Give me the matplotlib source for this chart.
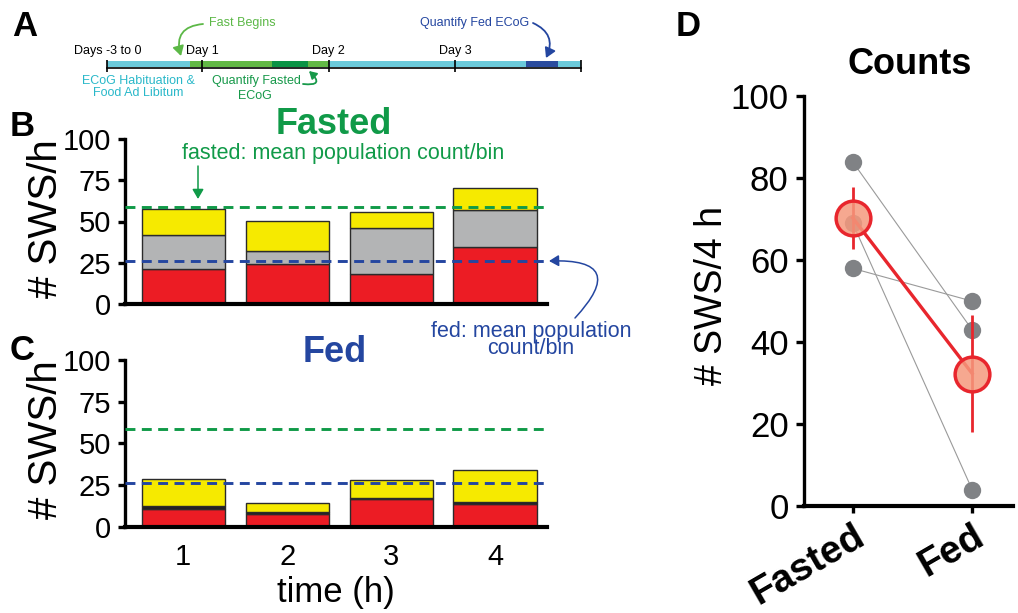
import numpy as np
import matplotlib.pyplot as plt
from matplotlib.patches import FancyArrowPatch

plt.rcParams['font.family'] = ['Liberation Sans', 'DejaVu Sans']

# ---- data ----
# timeline schedule (days)
timeline_edges = [0.25, 0.903, 1.552, 1.838, 2.0, 3.564, 3.818, 4.0]
timeline_colors = ['#6bcadb', '#62b946', '#0b9346', '#62b946', '#6bcadb', '#2b4c9e', '#6bcadb']
day_ticks = [0.25, 1, 2, 3, 4]
day_label_pos = [0.25, 1, 2, 3]
day_labels = ['Days -3 to 0', 'Day 1', 'Day 2', 'Day 3']

# SWS counts per hour bin
hours = [1, 2, 3, 4]
fasted_red = [21.1, 24.1, 18.0, 34.4]
fasted_gray = [20.8, 7.9, 28.0, 22.7]
fasted_yellow = [15.6, 18.4, 10.0, 13.1]
fed_red = [10.6, 7.4, 16.6, 13.6]
fed_black = [1.6, 1.4, 0.8, 1.4]
fed_yellow = [16.4, 5.2, 10.4, 18.8]

# SWS per 4 h, paired animals
groups = ['Fasted', 'Fed']
fasted_counts = [84, 69, 58]
fed_counts = [43, 4, 50]

RED = '#ec1c24'
GRAY = '#b3b4b5'
YELLOW = '#f6ea00'
BLACK = '#231f20'
GREEN = '#109a48'
BLUE = '#2446a0'

fig = plt.figure(figsize=(10.18, 6.13), dpi=100)


def style_axes(ax, lw=2.4):
    for s in ['top', 'right']:
        ax.spines[s].set_visible(False)
    ax.spines['left'].set_linewidth(lw)
    ax.spines['bottom'].set_linewidth(lw + 0.6)
    ax.tick_params(axis='y', width=lw, length=5, labelsize=21, pad=5)


def stacked(ax, layers):
    bottom = np.zeros(len(hours))
    for vals, col in layers:
        ax.bar(hours, vals, 0.8, bottom=bottom, color=col,
               edgecolor='#2b2b2b', linewidth=1, zorder=2)
        bottom += np.array(vals)
    return bottom


# ---- A: timeline ----
axT = fig.add_axes([106 / 1018, 1 - 73 / 613, 476.7 / 1018, 14 / 613])
axT.barh(0.645, np.diff(timeline_edges), left=timeline_edges[:-1], height=0.43,
         color=timeline_colors, linewidth=0)
axT.plot([timeline_edges[0], timeline_edges[-1]], [0.36, 0.36], color='black', lw=1.2)
axT.vlines(day_ticks, 0.07, 0.93, color='black', lw=1.2)
for x, lab in zip(day_label_pos, day_labels):
    axT.text(x, 1.57, lab, ha='center', va='center', fontsize=9)
axT.set_xlim(timeline_edges[0] - 0.01, timeline_edges[-1] + 0.01)
axT.set_ylim(0, 1)
axT.axis('off')

# ---- B: fasted ----
axB = fig.add_axes([125 / 1018, 1 - 304 / 613, 422 / 1018, 165 / 613])
fasted_tot = stacked(axB, [(fasted_red, RED), (fasted_gray, GRAY), (fasted_yellow, YELLOW)])
fed_tot = np.array(fed_red) + np.array(fed_black) + np.array(fed_yellow)
fasted_mean = np.mean(fasted_tot)
fed_mean = np.mean(fed_tot)

# ---- C: fed ----
axC = fig.add_axes([125 / 1018, 1 - 526.7 / 613, 422 / 1018, 166.7 / 613])
stacked(axC, [(fed_red, RED), (fed_black, BLACK), (fed_yellow, YELLOW)])

for ax in (axB, axC):
    ax.axhline(fasted_mean, color=GREEN, lw=2.1, dashes=(3.4, 2.2), zorder=3)
    ax.axhline(fed_mean, color=BLUE, lw=2.1, dashes=(3.4, 2.2), zorder=3)
    ax.set_xlim(0.44, 4.5)
    ax.set_ylim(0, 100)
    ax.set_yticks([0, 25, 50, 75, 100])
    style_axes(ax)
    ax.set_ylabel('# SWS/h', fontsize=29)
    ax.yaxis.set_label_coords(-0.142, 0.52)

axB.set_xticks([])
axC.set_xticks(hours)
axC.tick_params(axis='x', length=0, labelsize=21, pad=12)
axC.set_xlabel('time (h)', fontsize=25, labelpad=3)

# ---- D: paired counts ----
axD = fig.add_axes([804 / 1018, 1 - 506 / 613, 209 / 1018, 409.7 / 613])
xs = [0, 1]
for a, b in zip(fasted_counts, fed_counts):
    axD.plot(xs, [a, b], color='#9a9a9a', lw=0.8, zorder=1)
    axD.plot(xs, [a, b], 'o', color='#808285', ms=12.5, mec='none', zorder=2)
means = [np.mean(fasted_counts), np.mean(fed_counts)]
sems = [np.std(fasted_counts, ddof=1) / np.sqrt(len(fasted_counts)),
        np.std(fed_counts, ddof=1) / np.sqrt(len(fed_counts))]
axD.errorbar(xs, means, yerr=sems, color='#e8262d', lw=2.4, elinewidth=2,
             capsize=0, zorder=3)
axD.plot(xs, means, 'o', ms=25, mfc=(0.96, 0.60, 0.49, 0.85), mec='#e8262d',
         mew=2.5, zorder=4)
axD.set_xlim(-0.408, 1.342)
axD.set_ylim(0, 100)
axD.set_yticks([0, 20, 40, 60, 80, 100])
style_axes(axD)
axD.tick_params(axis='y', labelsize=25, length=6)
axD.set_xticks(xs)
axD.set_xticklabels(groups, rotation=30, ha='right', va='top',
                    rotation_mode='anchor', fontsize=28, fontweight='bold')
axD.tick_params(axis='x', width=2.4, length=5, pad=4)
axD.set_ylabel('# SWS/4 h', fontsize=27)
axD.yaxis.set_label_coords(-0.354, 0.515)

# ---- overlay: letters, titles, notes, arrows ----
axO = fig.add_axes([0, 0, 1, 1])
axO.set_xlim(0, 1018)
axO.set_ylim(613, 0)
axO.axis('off')

for lab, x, y in [('A', 25, 26), ('B', 22, 127), ('C', 22, 350), ('D', 688, 27)]:
    axO.text(x, y, lab, fontsize=25, fontweight='bold', ha='center', va='center')

axO.text(334, 124, 'Fasted', color=GREEN, fontsize=26, fontweight='bold', ha='center', va='center')
axO.text(335, 352, 'Fed', color=BLUE, fontsize=26, fontweight='bold', ha='center', va='center')
axO.text(910, 64, 'Counts', fontsize=26, fontweight='bold', ha='center', va='center')

axO.text(343, 153, 'fasted: mean population count/bin', color=GREEN, fontsize=15.5,
         ha='center', va='center')
axO.text(531, 340, 'fed: mean population\ncount/bin', color=BLUE, fontsize=15.5,
         ha='center', va='center', multialignment='center', linespacing=0.8)

LGREEN = '#5cb847'
CYAN = '#29b8c9'
axO.text(242.5, 22.7, 'Fast Begins', color=LGREEN, fontsize=9, ha='center', va='center')
axO.text(474.5, 22.7, 'Quantify Fed ECoG', color=BLUE, fontsize=9, ha='center', va='center')
axO.text(138, 81, 'ECoG Habituation &', color=CYAN, fontsize=9, ha='center', va='center')
axO.text(138, 93.3, 'Food Ad Libitum', color=CYAN, fontsize=9, ha='center', va='center')
axO.text(256, 81, 'Quantify Fasted', color='#17994a', fontsize=9, ha='center', va='center')
axO.text(255, 96, 'ECoG', color='#17994a', fontsize=9, ha='center', va='center')


def arrow(p0, p1, rad, color, lw=1.3, head=8):
    axO.add_patch(FancyArrowPatch(p0, p1, connectionstyle=f'arc3,rad={rad}',
                                  arrowstyle=f'-|>,head_length={head * 0.06},head_width={head * 0.035}',
                                  color=color, lw=lw, mutation_scale=12,
                                  shrinkA=0, shrinkB=0))


arrow((203, 24), (181, 56), 0.6, LGREEN)
arrow((533, 23), (546, 58), -0.5, BLUE)
arrow((303, 84), (309, 71), 1.5, '#17994a', head=6)
arrow((198, 166), (198, 199), 0, GREEN, lw=1.1)
arrow((575, 318), (549, 261), 1.2, BLUE, lw=1.1)

fig.savefig('out.png', dpi=100)
